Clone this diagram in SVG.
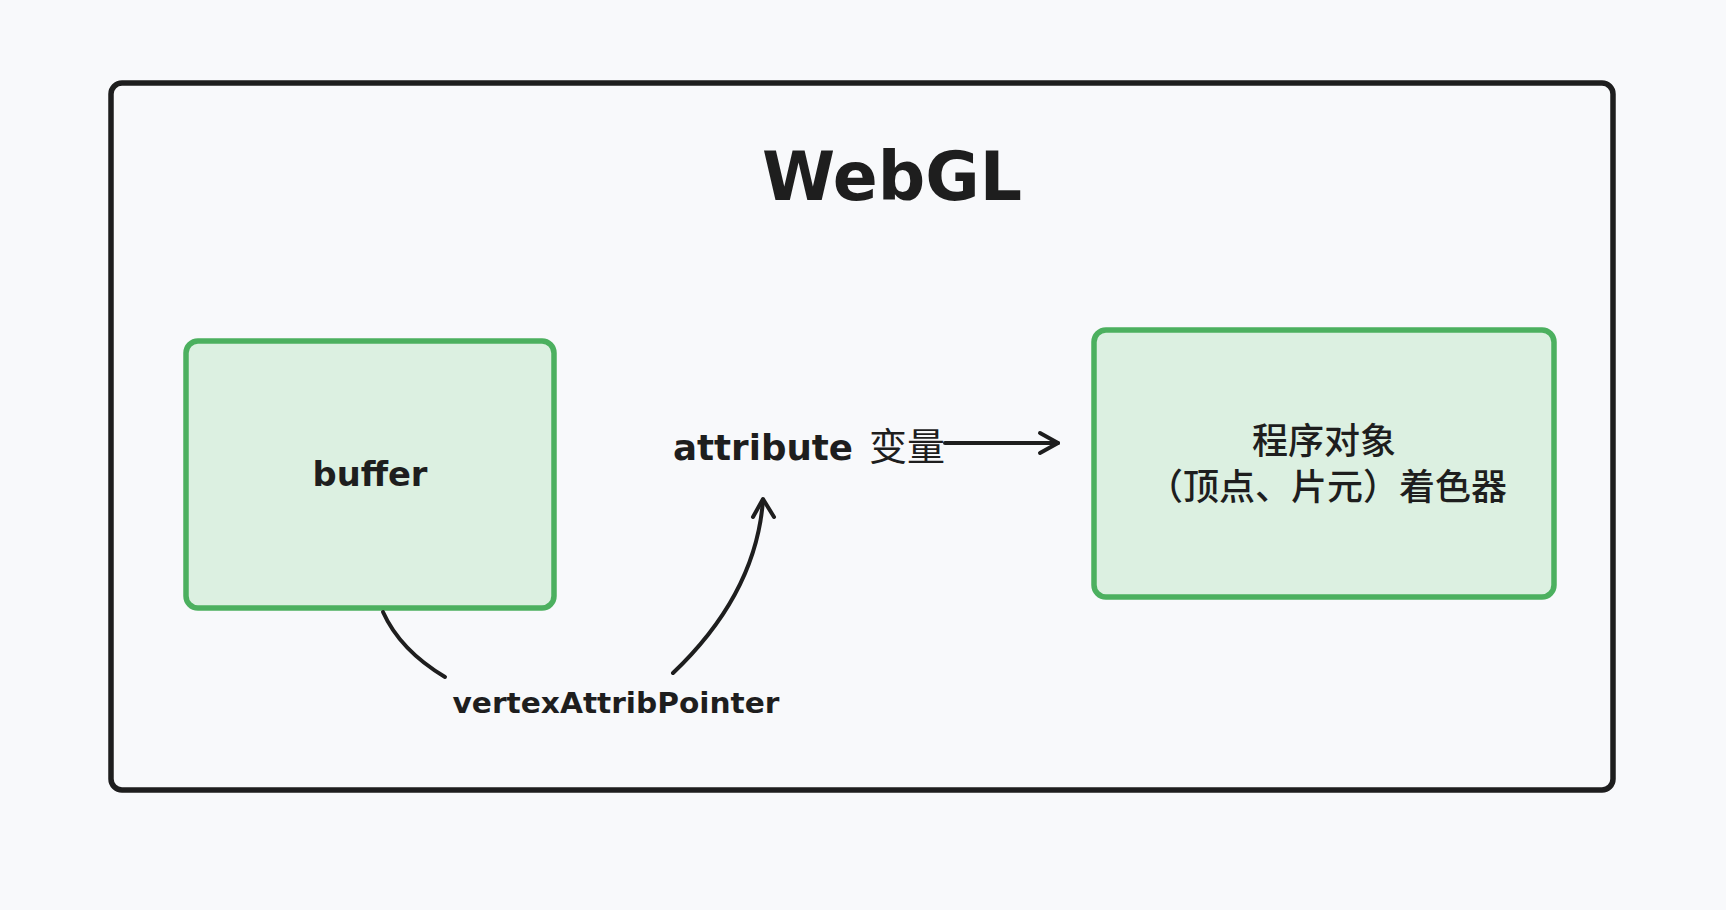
<svg xmlns="http://www.w3.org/2000/svg" width="1726" height="910" viewBox="0 0 1726 910">
  <style>
    .bg { fill: #f8f9fb; }
    .frame { fill: #f8f9fb; stroke: #1e1e1e; stroke-width: 5.5; }
    .node { fill: #dcf0e1; stroke: #4cb05f; stroke-width: 5.5; }
    .hand { font-family: "DejaVu Sans", "Liberation Sans", sans-serif; font-weight: bold; fill: #1e1e1e; }
    .cjk { font-family: "Noto Sans CJK SC", "Noto Sans", sans-serif; font-weight: 500; fill: #1e1e1e; }
    .edge { fill: none; stroke: #1e1e1e; stroke-width: 4; stroke-linecap: round; stroke-linejoin: round; }
  </style>
  <rect class="bg" x="0" y="0" width="1726" height="910"/>

  <g id="webgl-frame">
    <rect class="frame" x="111" y="83" width="1502" height="707" rx="11"/>
    <text class="hand" x="892" y="200" font-size="67" text-anchor="middle" textLength="260" lengthAdjust="spacingAndGlyphs">WebGL</text>
  </g>

  <g id="buffer">
    <rect class="node" x="186" y="341" width="368" height="267" rx="12"/>
    <text class="hand" x="370" y="486" font-size="34" text-anchor="middle" textLength="115" lengthAdjust="spacingAndGlyphs">buffer</text>
  </g>

  <g id="program">
    <rect class="node" x="1094" y="330" width="460" height="267" rx="12"/>
    <text class="cjk" x="1324" y="454" font-size="36" text-anchor="middle">程序对象</text>
    <text class="cjk" x="1327" y="500" font-size="36" text-anchor="middle">（顶点、片元）着色器</text>
  </g>

  <g id="attribute">
    <text class="hand" x="673" y="460" font-size="36" textLength="180" lengthAdjust="spacingAndGlyphs">attribute</text>
    <text class="cjk" x="869" y="460" font-size="38" style="font-weight:400">变量</text>
  </g>

  <g id="connectors">
    <path class="edge" d="M945,443 L1058,443"/>
    <polyline class="edge" points="1040,433 1058,443 1040,453"/>
    <path class="edge" d="M383,612 Q400,650 445,677"/>
    <path class="edge" d="M673,673 Q756,594 763,500"/>
    <polyline class="edge" points="753,517 763,499 774,517"/>
    <text class="hand" x="616" y="713" font-size="28" text-anchor="middle" textLength="327" lengthAdjust="spacingAndGlyphs">vertexAttribPointer</text>
  </g>
</svg>
